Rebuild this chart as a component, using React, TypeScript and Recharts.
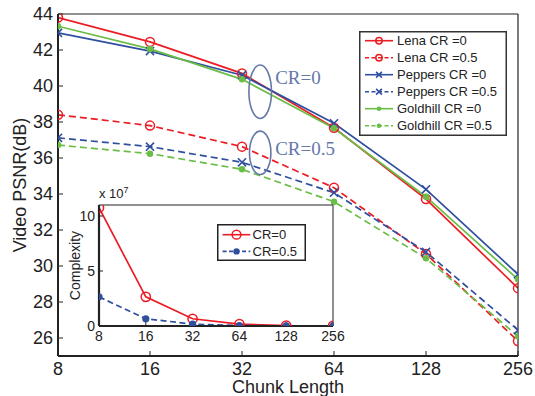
import React from 'react';
import { LineChart, Line, XAxis, YAxis, Legend, ReferenceDot, CartesianGrid } from 'recharts';

const chunkLengths = [8, 16, 32, 64, 128, 256];
const lenaCR0 = [43.8, 42.45, 40.7, 37.68, 33.72, 28.77];
const lenaCR05 = [38.4, 37.8, 36.63, 34.35, 30.67, 25.83];
const peppersCR0 = [42.95, 41.94, 40.6, 37.93, 34.26, 29.54];
const peppersCR05 = [37.12, 36.63, 35.76, 34.07, 30.78, 26.44];
const goldhillCR0 = [43.32, 42.06, 40.37, 37.65, 33.85, 29.26];
const goldhillCR05 = [36.72, 36.24, 35.37, 33.57, 30.43, 26.1];
const psnrTicks = [26, 28, 30, 32, 34, 36, 38, 40, 42, 44];

const complexityCR0 = [10.75, 2.65, 0.66, 0.17, 0.04, 0.01];
const complexityCR05 = [2.65, 0.66, 0.17, 0.04, 0.01, 0.003];
const complexityTicks = [0, 5, 10];

const RED = '#ec1c24';
const BLUE = '#2f4f9f';
const GREEN = '#6abd45';
const ANNOT = '#6479a8';
const INK = '#222';
const FONT = '"Liberation Sans", Arial, Helvetica, sans-serif';

type Marker = 'circle' | 'cross' | 'dot';
interface Series {
  key: string;
  name: string;
  values: number[];
  color: string;
  dashed: boolean;
  marker: Marker;
}

const psnrSeries: Series[] = [
  { key: 'lena0', name: 'Lena CR =0', values: lenaCR0, color: RED, dashed: false, marker: 'circle' },
  { key: 'lena05', name: 'Lena CR =0.5', values: lenaCR05, color: RED, dashed: true, marker: 'circle' },
  { key: 'peppers0', name: 'Peppers CR =0', values: peppersCR0, color: BLUE, dashed: false, marker: 'cross' },
  { key: 'peppers05', name: 'Peppers CR =0.5', values: peppersCR05, color: BLUE, dashed: true, marker: 'cross' },
  { key: 'goldhill0', name: 'Goldhill CR =0', values: goldhillCR0, color: GREEN, dashed: false, marker: 'dot' },
  { key: 'goldhill05', name: 'Goldhill CR =0.5', values: goldhillCR05, color: GREEN, dashed: true, marker: 'dot' },
];

const complexitySeries: Series[] = [
  { key: 'cr0', name: 'CR=0', values: complexityCR0, color: RED, dashed: false, marker: 'circle' },
  { key: 'cr05', name: 'CR=0.5', values: complexityCR05, color: BLUE, dashed: true, marker: 'dot' },
];

const buildData = (series: Series[]) =>
  chunkLengths.map((c, i) => {
    const row: Record<string, number> = { chunk: c };
    series.forEach((s) => {
      row[s.key] = s.values[i];
    });
    return row;
  });

const psnrData = buildData(psnrSeries);
const complexityData = buildData(complexitySeries);

function drawMarker(marker: Marker, cx: number, cy: number, color: string, size: number, key?: string) {
  if (cx == null || cy == null || isNaN(cx) || isNaN(cy)) return <g key={key} />;
  if (marker === 'circle') {
    return <circle key={key} cx={cx} cy={cy} r={size} fill="none" stroke={color} strokeWidth={1.5} />;
  }
  if (marker === 'cross') {
    const d = size * 0.9;
    return (
      <path
        key={key}
        d={`M${cx - d},${cy - d}L${cx + d},${cy + d}M${cx - d},${cy + d}L${cx + d},${cy - d}`}
        stroke={color}
        strokeWidth={1.6}
        fill="none"
      />
    );
  }
  return <circle key={key} cx={cx} cy={cy} r={size * 0.72} fill={color} stroke="none" />;
}

const MainLegend = () => (
  <svg width={148} height={105} style={{ display: 'block', overflow: 'visible' }}>
    <rect x={0.75} y={0.75} width={146.5} height={103.5} fill="#fff" stroke="#333" strokeWidth={1.5} />
    {psnrSeries.map((s, i) => {
      const y = 9.7 + 17 * i;
      return (
        <g key={s.key}>
          <line x1={6} x2={34} y1={y} y2={y} stroke={s.color} strokeWidth={1.6} strokeDasharray={s.dashed ? '4 2.5' : undefined} />
          {drawMarker(s.marker, 20, y, s.color, 3.2)}
          <text x={38} y={y} dy="0.36em" fontSize={13} fill={INK} fontFamily={FONT}>
            {s.name}
          </text>
        </g>
      );
    })}
  </svg>
);

const InsetLegend = () => (
  <svg width={89} height={37} style={{ display: 'block', overflow: 'visible' }}>
    <rect x={0.75} y={0.75} width={87.5} height={35.5} fill="#fff" stroke="#222" strokeWidth={1.5} />
    {complexitySeries.map((s, i) => {
      const y = 10.7 + 16.7 * i;
      return (
        <g key={s.key}>
          <line x1={5.6} x2={33.3} y1={y} y2={y} stroke={s.color} strokeWidth={1.6} strokeDasharray={s.dashed ? '4 2.5' : undefined} />
          {drawMarker(s.marker, 19.5, y, s.color, 4.4)}
          <text x={35.6} y={y} dy="0.36em" fontSize={13} fill={INK} fontFamily={FONT}>
            {s.name}
          </text>
        </g>
      );
    })}
  </svg>
);

const annotation = (label: string, rx: number, ry: number, textDy: number) => (p: any) => (
  <g>
    <ellipse cx={p.cx} cy={p.cy} rx={rx} ry={ry} fill="none" stroke={ANNOT} strokeWidth={1.6} />
    <text x={p.cx + 15} y={p.cy + textDy} fontSize={19} fill={ANNOT} fontFamily='"Liberation Serif", "Times New Roman", serif'>
      {label}
    </text>
  </g>
);

export default function App() {
  return (
    <div style={{ position: 'absolute', left: 0, top: 0, width: 535, height: 396, background: '#fff', fontFamily: FONT }}>
      <LineChart width={535} height={396} data={psnrData} margin={{ top: 13, right: 16, bottom: 0, left: 0 }}>
        <XAxis
          dataKey="chunk"
          type="number"
          scale="log"
          domain={[8, 256]}
          ticks={chunkLengths}
          interval={0}
          allowDataOverflow
          height={40}
          tickSize={-5}
          tickMargin={11}
          tick={{ fontSize: 18, fill: INK }}
          axisLine={{ stroke: INK, strokeWidth: 2 }}
          tickLine={{ stroke: INK, strokeWidth: 1 }}
          label={{
            content: () => (
              <text x={288} y={393} textAnchor="middle" fontSize={18} fill={INK}>
                Chunk Length
              </text>
            ),
          }}
        />
        <XAxis
          xAxisId="top"
          orientation="top"
          dataKey="chunk"
          type="number"
          scale="log"
          domain={[8, 256]}
          ticks={chunkLengths}
          interval={0}
          allowDataOverflow
          height={1}
          tickSize={-5}
          tick={false}
          axisLine={{ stroke: INK, strokeWidth: 1.2 }}
          tickLine={{ stroke: INK, strokeWidth: 1 }}
        />
        <YAxis
          domain={[25, 44]}
          ticks={psnrTicks}
          interval={0}
          allowDataOverflow
          width={58}
          tickSize={-5}
          tickMargin={10}
          tick={{ fontSize: 18, fill: INK }}
          axisLine={{ stroke: INK, strokeWidth: 2 }}
          tickLine={{ stroke: INK, strokeWidth: 1 }}
          label={{
            content: () => (
              <text x={26} y={185} transform="rotate(-90 26 185)" textAnchor="middle" fontSize={18} fill={INK}>
                Video PSNR(dB)
              </text>
            ),
          }}
        />
        <YAxis
          yAxisId="right"
          orientation="right"
          domain={[25, 44]}
          ticks={psnrTicks}
          interval={0}
          allowDataOverflow
          width={1}
          tickSize={-5}
          tick={false}
          axisLine={{ stroke: INK, strokeWidth: 1.2 }}
          tickLine={{ stroke: INK, strokeWidth: 1 }}
        />
        {psnrSeries.map((s) => (
          <Line
            key={s.key}
            dataKey={s.key}
            name={s.name}
            stroke={s.color}
            strokeWidth={1.7}
            strokeDasharray={s.dashed ? '7 4' : undefined}
            isAnimationActive={false}
            dot={(p: any) => drawMarker(s.marker, p.cx, p.cy, s.color, 4.5, `${s.key}-${p.index}`)}
            activeDot={false}
          />
        ))}
        <ReferenceDot x={36.7} y={39.68} r={0} ifOverflow="visible" shape={annotation('CR=0', 11.3, 26.7, -7.7)} />
        <ReferenceDot x={36.7} y={36.29} r={0} ifOverflow="visible" shape={annotation('CR=0.5', 10.7, 21.7, 2.3)} />
        <Legend
          layout="vertical"
          align="center"
          verticalAlign="middle"
          wrapperStyle={{ left: 359, top: 31, width: 148, height: 105 }}
          content={() => <MainLegend />}
        />
      </LineChart>

      <div style={{ position: 'absolute', left: 60, top: 178 }}>
        <LineChart width={285} height={175} data={complexityData} margin={{ top: 26, right: 11, bottom: 0, left: 0 }}>
          <CartesianGrid fill="#fff" horizontal={false} vertical={false} />
          <XAxis
            dataKey="chunk"
            type="number"
            scale="log"
            domain={[8, 256]}
            ticks={chunkLengths}
            interval={0}
            allowDataOverflow
            height={27}
            tickSize={-4}
            tickMargin={9}
            tick={{ fontSize: 14, fill: INK }}
            axisLine={{ stroke: INK, strokeWidth: 2.2 }}
            tickLine={{ stroke: INK, strokeWidth: 1 }}
          />
          <XAxis
            xAxisId="top"
            orientation="top"
            dataKey="chunk"
            type="number"
            scale="log"
            domain={[8, 256]}
            ticks={chunkLengths}
            interval={0}
            allowDataOverflow
            height={1}
            tickSize={-4}
            tick={false}
            axisLine={{ stroke: INK, strokeWidth: 1 }}
            tickLine={{ stroke: INK, strokeWidth: 1 }}
            label={{
              content: () => (
                <text x={39} y={20} fontSize={13} fill={INK}>
                  x 10
                  <tspan dy={-5} fontSize={9}>
                    7
                  </tspan>
                </text>
              ),
            }}
          />
          <YAxis
            domain={[0, 11]}
            ticks={complexityTicks}
            interval={0}
            allowDataOverflow
            width={39}
            tickSize={-4}
            tickMargin={8}
            tick={{ fontSize: 14, fill: INK }}
            axisLine={{ stroke: INK, strokeWidth: 2.2 }}
            tickLine={{ stroke: INK, strokeWidth: 1 }}
            label={{
              content: () => (
                <text x={20} y={87.5} transform="rotate(-90 20 87.5)" textAnchor="middle" fontSize={14} fill={INK}>
                  Complexity
                </text>
              ),
            }}
          />
          <YAxis
            yAxisId="right"
            orientation="right"
            domain={[0, 11]}
            ticks={complexityTicks}
            interval={0}
            allowDataOverflow
            width={1}
            tickSize={-4}
            tick={false}
            axisLine={{ stroke: INK, strokeWidth: 1 }}
            tickLine={{ stroke: INK, strokeWidth: 1 }}
          />
          {complexitySeries.map((s) => (
            <Line
              key={s.key}
              dataKey={s.key}
              name={s.name}
              stroke={s.color}
              strokeWidth={1.7}
              strokeDasharray={s.dashed ? '6 3.5' : undefined}
              isAnimationActive={false}
              dot={(p: any) => drawMarker(s.marker, p.cx, p.cy, s.color, s.marker === 'dot' ? 5 : 4.6, `${s.key}-${p.index}`)}
              activeDot={false}
            />
          ))}
          <Legend
            layout="vertical"
            align="center"
            verticalAlign="middle"
            wrapperStyle={{ left: 156.7, top: 46.3, width: 89, height: 37 }}
            content={() => <InsetLegend />}
          />
        </LineChart>
      </div>
    </div>
  );
}
